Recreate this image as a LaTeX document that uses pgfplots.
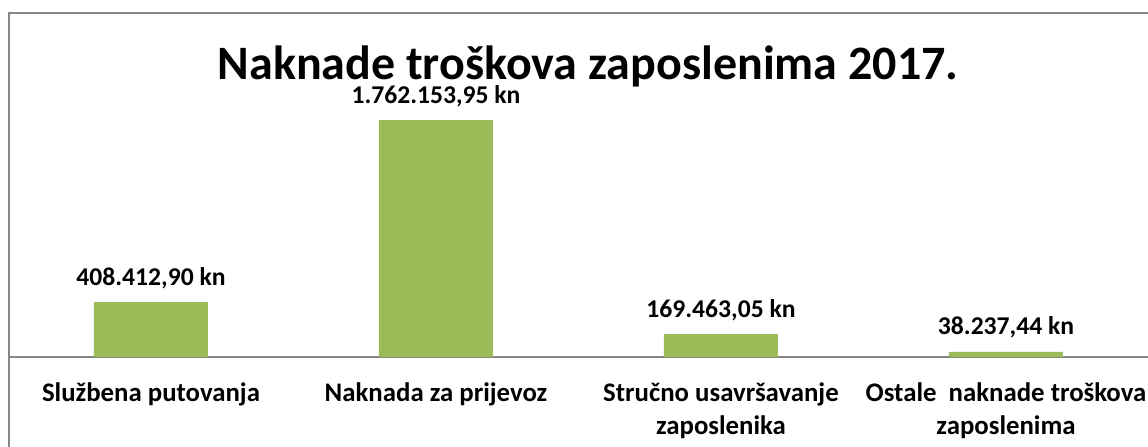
\documentclass[border=0pt]{standalone}
\usepackage{pgfplots}
\pgfplotsset{compat=1.18}
\usepackage{fontspec}
\setmainfont{Carlito}
\definecolor{bargreen}{HTML}{9BBB59}
\definecolor{framegray}{HTML}{868686}
\begin{document}
\begin{tikzpicture}
\useasboundingbox (0,0) rectangle (574pt,-223pt);
\clip (0,0) rectangle (574pt,-223pt);
% outer chart frame (cut off on the right and bottom)
\draw[framegray, line width=1pt] (4.5pt,-240pt) -- (4.5pt,-6.5pt) -- (600pt,-6.5pt);
\node[anchor=base, font=\fontsize{24}{28}\selectfont\bfseries] at (294pt,-39.5pt)
  {Naknade troškova zaposlenima 2017.};
\begin{axis}[
  at={(4.25pt,-178.5pt)}, anchor=south west,
  scale only axis, width=570pt, height=134.5pt,
  xmin=-0.5, xmax=3.5, ymin=0, ymax=2000000,
  axis x line*=bottom, hide y axis,
  x axis line style={framegray, line width=0.8pt, -},
  xtick={0,1,2,3}, major tick length=0pt,
  xticklabels={Službena putovanja, Naknada za prijevoz,
    {Stručno usavršavanje\\zaposlenika}, {Ostale~ naknade troškova\\zaposlenima}},
  xticklabel style={font=\fontsize{13.4}{16.5}\selectfont\bfseries, align=center,
    anchor=north, yshift=-9.5pt},
  ybar, bar width=57pt,
  nodes near coords, point meta=explicit symbolic,
  every node near coord/.append style={font=\fontsize{12.8}{15}\selectfont\bfseries,
    anchor=base, inner sep=0pt, yshift=8.5pt},
]
\addplot[fill=bargreen, draw=none] coordinates {
  (0,408412.90)[408.412,90 kn]
  (1,1762153.95)[1.762.153,95 kn]
  (2,169463.05)[169.463,05 kn]
  (3,38237.44)[38.237,44 kn]
};
\end{axis}
\end{tikzpicture}
\end{document}
